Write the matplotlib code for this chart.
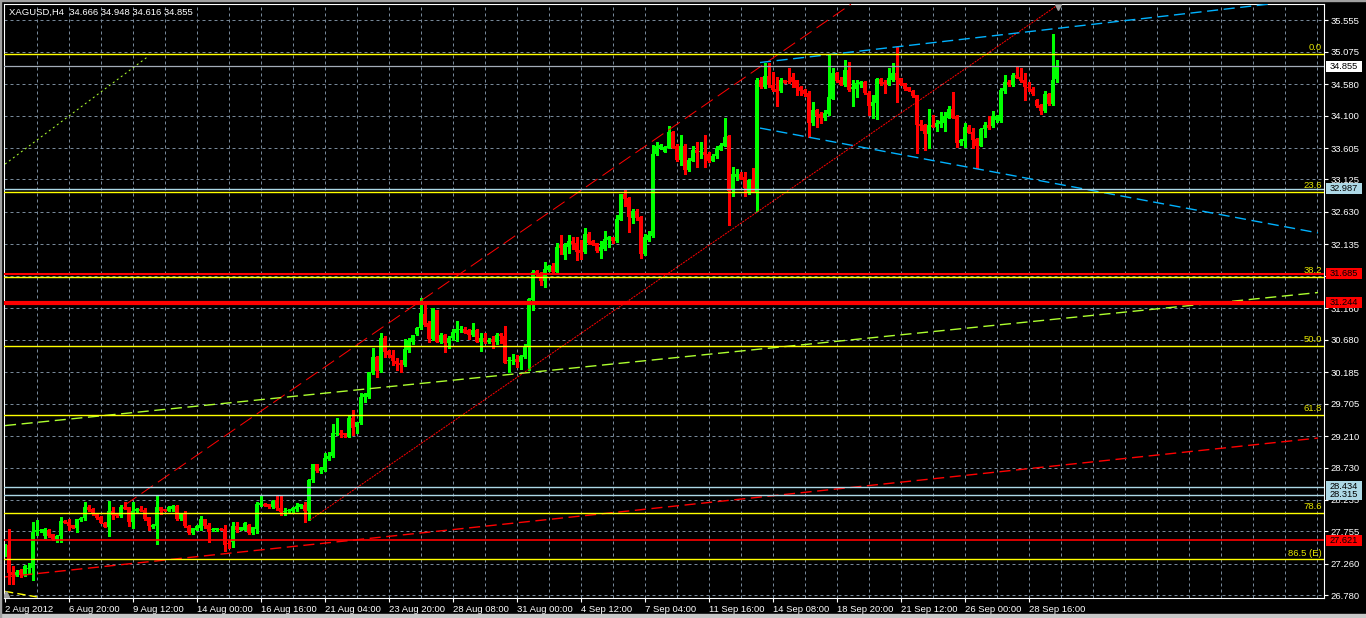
import matplotlib
matplotlib.use('Agg')
import matplotlib.pyplot as plt
import matplotlib.transforms as mtransforms
from matplotlib.patches import Rectangle
import numpy as np

# ------------------------------------------------------------
# Data (2 Aug 2012 .. 28 Sep 2012)
# ------------------------------------------------------------

opens = [
    27.40, 27.55, 27.13, 27.09, 27.16, 27.09, 27.18, 27.20, 27.74, 27.76,
    27.68, 27.78, 27.71, 27.64, 27.68, 27.92, 27.90, 27.85, 27.81, 27.93,
    27.96, 28.12, 28.10, 28.03, 27.98, 27.89, 27.83, 28.07, 28.02, 27.99,
    28.12, 28.12, 27.90, 28.06, 28.10, 28.08, 27.97, 27.82, 27.84, 28.12,
    28.09, 28.07, 28.10, 28.15, 27.94, 28.04, 27.84, 27.73, 27.78, 27.80,
    27.94, 27.85, 27.77, 27.77, 27.79, 27.79, 27.58, 27.60, 27.84, 27.78,
    27.78, 27.86, 27.73, 27.79, 28.16, 28.18, 28.17, 28.12, 28.23, 28.11,
    28.05, 28.06, 28.06, 28.09, 28.12, 28.16, 28.07, 28.54, 28.78, 28.67,
    28.69, 28.86, 28.90, 29.24, 29.26, 29.25, 29.20, 29.49, 29.35, 29.41,
    29.80, 29.81, 30.17, 30.41, 30.21, 30.70, 30.51, 30.45, 30.36, 30.33,
    30.29, 30.52, 30.65, 30.76, 30.86, 31.08, 30.94, 30.69, 31.13, 30.65,
    30.75, 30.63, 30.70, 30.78, 30.83, 30.84, 30.83, 30.75, 30.83, 30.65,
    30.70, 30.65, 30.69, 30.65, 30.76, 30.74, 30.35, 30.36, 30.38, 30.34,
    30.41, 30.57, 31.29, 31.73, 31.69, 31.57, 31.74, 31.80, 31.72, 32.12,
    31.98, 32.10, 32.19, 32.15, 32.05, 32.02, 32.30, 32.19, 32.15, 32.04,
    32.07, 32.20, 32.24, 32.18, 32.51, 32.90, 32.85, 32.54, 32.64, 32.56,
    31.99, 32.20, 32.26, 33.52, 33.61, 33.55, 33.61, 33.85, 33.64, 33.42,
    33.64, 33.27, 33.41, 33.57, 33.54, 33.55, 33.52, 33.41, 33.49, 33.58,
    33.64, 33.79, 32.96, 33.17, 33.21, 33.17, 32.93, 33.12, 32.93, 34.65,
    34.54, 34.70, 34.57, 34.50, 34.47, 34.64, 34.62, 34.69, 34.64, 34.53,
    34.49, 34.45, 33.99, 34.18, 34.13, 34.06, 34.13, 34.36, 34.75, 34.65,
    34.57, 34.80, 34.50, 34.50, 34.58, 34.62, 34.45, 34.25, 34.29, 34.66,
    34.62, 34.58, 34.64, 34.75, 34.67, 34.59, 34.53, 34.47, 34.41, 33.97,
    33.96, 33.82, 33.96, 33.92, 33.97, 33.99, 34.07, 34.20, 34.09, 33.68,
    33.72, 33.93, 33.85, 33.74, 33.64, 33.89, 33.96, 33.94, 34.04, 34.02,
    34.47, 34.62, 34.57, 34.72, 34.69, 34.64, 34.54, 34.51, 34.34, 34.26,
    34.17, 34.43, 34.28, 34.666,
]
highs = [
    27.56, 27.79, 27.22, 27.17, 27.18, 27.24, 27.27, 27.90, 27.93, 27.79,
    27.80, 27.79, 27.72, 27.70, 27.97, 27.93, 27.95, 27.86, 27.95, 27.97,
    28.20, 28.16, 28.11, 28.04, 27.99, 27.90, 28.22, 28.13, 28.03, 28.16,
    28.21, 28.13, 28.21, 28.11, 28.14, 28.11, 27.98, 27.87, 28.30, 28.12,
    28.10, 28.14, 28.16, 28.16, 28.04, 28.06, 27.85, 27.81, 27.85, 27.99,
    27.95, 27.88, 27.80, 27.81, 27.80, 27.85, 27.62, 27.90, 27.90, 27.83,
    27.90, 27.87, 27.83, 28.21, 28.29, 28.19, 28.18, 28.23, 28.30, 28.30,
    28.11, 28.09, 28.12, 28.19, 28.18, 28.21, 28.55, 28.79, 28.79, 28.74,
    28.95, 28.96, 29.39, 29.48, 29.30, 29.26, 29.51, 29.61, 29.43, 29.87,
    29.87, 30.19, 30.55, 30.43, 30.78, 30.73, 30.52, 30.52, 30.40, 30.37,
    30.69, 30.70, 30.75, 30.88, 31.31, 31.21, 30.96, 31.17, 31.14, 30.79,
    30.76, 30.73, 30.85, 30.97, 30.89, 30.87, 30.84, 30.94, 30.84, 30.78,
    30.78, 30.70, 30.73, 30.78, 30.78, 30.89, 30.41, 30.46, 30.45, 30.45,
    30.61, 31.31, 31.74, 31.75, 31.72, 31.86, 31.82, 31.85, 32.15, 32.28,
    32.16, 32.28, 32.25, 32.25, 32.20, 32.38, 32.33, 32.20, 32.16, 32.18,
    32.34, 32.26, 32.25, 32.59, 32.91, 32.97, 32.86, 32.67, 32.67, 32.57,
    32.30, 32.34, 33.65, 33.70, 33.67, 33.64, 33.94, 33.86, 33.67, 33.80,
    33.67, 33.45, 33.63, 33.69, 33.69, 33.80, 33.55, 33.52, 33.63, 33.68,
    34.07, 33.81, 33.31, 33.28, 33.24, 33.24, 33.14, 33.30, 34.68, 34.69,
    34.91, 34.90, 34.77, 34.69, 34.67, 34.65, 34.83, 34.75, 34.65, 34.55,
    34.50, 34.47, 34.31, 34.20, 34.16, 34.18, 35.04, 34.82, 34.77, 34.69,
    34.95, 34.92, 34.65, 34.64, 34.63, 34.63, 34.47, 34.41, 34.67, 34.67,
    34.64, 34.82, 34.90, 35.14, 34.68, 34.60, 34.54, 34.49, 34.42, 34.04,
    33.97, 34.20, 34.11, 34.03, 34.16, 34.16, 34.24, 34.46, 34.11, 33.75,
    33.99, 33.96, 33.91, 33.76, 33.91, 34.01, 34.09, 34.17, 34.11, 34.52,
    34.72, 34.64, 34.75, 34.85, 34.82, 34.75, 34.62, 34.54, 34.35, 34.27,
    34.48, 34.45, 35.35, 34.948,
]
lows = [
    27.38, 26.96, 26.96, 27.07, 27.06, 27.08, 27.12, 27.02, 27.70, 27.74,
    27.66, 27.67, 27.62, 27.60, 27.60, 27.88, 27.78, 27.80, 27.75, 27.92,
    27.93, 28.06, 28.01, 27.95, 27.88, 27.82, 27.68, 27.95, 27.98, 27.98,
    28.09, 27.84, 27.80, 28.05, 28.06, 27.93, 27.78, 27.81, 27.57, 28.02,
    28.06, 28.06, 28.07, 27.93, 27.93, 27.82, 27.72, 27.72, 27.77, 27.78,
    27.80, 27.60, 27.76, 27.76, 27.77, 27.46, 27.50, 27.52, 27.75, 27.77,
    27.77, 27.72, 27.72, 27.73, 28.14, 28.14, 28.11, 28.11, 28.08, 28.01,
    28.01, 28.05, 28.05, 28.07, 28.11, 27.90, 27.93, 28.51, 28.66, 28.64,
    28.68, 28.84, 28.89, 29.22, 29.20, 29.20, 29.20, 29.23, 29.26, 29.40,
    29.73, 29.79, 30.16, 30.11, 30.19, 30.42, 30.42, 30.29, 30.22, 30.19,
    30.28, 30.50, 30.61, 30.75, 30.85, 30.89, 30.65, 30.68, 30.64, 30.63,
    30.50, 30.56, 30.68, 30.66, 30.80, 30.78, 30.69, 30.74, 30.64, 30.51,
    30.63, 30.63, 30.55, 30.61, 30.63, 30.32, 30.19, 30.31, 30.26, 30.24,
    30.40, 30.22, 31.13, 31.64, 31.52, 31.49, 31.73, 31.71, 31.71, 31.99,
    31.91, 32.00, 32.07, 31.89, 31.91, 32.00, 32.14, 32.12, 32.02, 31.92,
    32.05, 32.10, 32.16, 32.17, 32.50, 32.72, 32.33, 32.46, 32.50, 31.93,
    31.97, 32.18, 32.25, 33.50, 33.59, 33.54, 33.60, 33.60, 33.40, 33.34,
    33.21, 33.26, 33.40, 33.32, 33.46, 33.32, 33.39, 33.40, 33.46, 33.57,
    33.63, 32.43, 32.87, 33.12, 33.13, 32.87, 32.90, 32.93, 32.65, 34.52,
    34.52, 34.54, 34.48, 34.25, 34.46, 34.59, 34.60, 34.54, 34.41, 34.41,
    34.40, 33.77, 33.96, 33.93, 33.99, 34.04, 34.11, 34.35, 34.62, 34.56,
    34.55, 34.48, 34.24, 34.39, 34.54, 34.43, 34.11, 34.06, 34.05, 34.57,
    34.45, 34.57, 34.63, 34.30, 34.57, 34.49, 34.47, 34.39, 33.53, 33.88,
    33.58, 33.60, 33.92, 33.87, 33.93, 33.86, 34.06, 34.07, 33.62, 33.65,
    33.62, 33.83, 33.60, 33.30, 33.63, 33.78, 33.89, 33.93, 34.01, 34.01,
    34.44, 34.55, 34.55, 34.67, 34.62, 34.34, 34.47, 34.41, 34.23, 34.13,
    34.16, 34.26, 34.26, 34.616,
]
closes = [
    27.55, 27.12, 27.09, 27.14, 27.09, 27.22, 27.20, 27.75, 27.77, 27.77,
    27.79, 27.69, 27.64, 27.69, 27.92, 27.89, 27.84, 27.81, 27.94, 27.96,
    28.12, 28.08, 28.02, 27.96, 27.89, 27.83, 28.07, 28.01, 27.99, 28.12,
    28.10, 27.90, 28.07, 28.10, 28.07, 27.95, 27.84, 27.86, 28.12, 28.07,
    28.07, 28.13, 28.15, 27.94, 28.03, 27.84, 27.73, 27.80, 27.84, 27.94,
    27.84, 27.75, 27.79, 27.80, 27.78, 27.55, 27.56, 27.84, 27.77, 27.82,
    27.88, 27.73, 27.82, 28.17, 28.19, 28.15, 28.12, 28.22, 28.11, 28.05,
    28.07, 28.08, 28.11, 28.14, 28.17, 28.07, 28.54, 28.78, 28.67, 28.72,
    28.87, 28.91, 29.25, 29.26, 29.22, 29.22, 29.48, 29.34, 29.42, 29.81,
    29.85, 30.18, 30.41, 30.21, 30.70, 30.50, 30.44, 30.35, 30.31, 30.29,
    30.54, 30.68, 30.75, 30.86, 31.09, 30.91, 30.69, 31.16, 30.65, 30.75,
    30.63, 30.71, 30.80, 30.84, 30.85, 30.79, 30.75, 30.83, 30.65, 30.70,
    30.65, 30.67, 30.65, 30.75, 30.73, 30.33, 30.37, 30.37, 30.34, 30.43,
    30.57, 31.30, 31.72, 31.67, 31.57, 31.76, 31.80, 31.72, 32.10, 32.08,
    32.12, 32.19, 32.14, 32.02, 32.01, 32.30, 32.15, 32.13, 32.04, 32.09,
    32.22, 32.24, 32.18, 32.52, 32.90, 32.83, 32.55, 32.64, 32.53, 31.99,
    32.24, 32.28, 33.52, 33.64, 33.65, 33.62, 33.85, 33.61, 33.42, 33.64,
    33.27, 33.42, 33.57, 33.53, 33.55, 33.50, 33.40, 33.49, 33.60, 33.65,
    33.78, 32.95, 33.21, 33.21, 33.14, 32.99, 33.12, 32.94, 34.65, 34.54,
    34.70, 34.56, 34.49, 34.46, 34.65, 34.60, 34.61, 34.62, 34.52, 34.47,
    34.43, 33.99, 34.19, 34.10, 34.06, 34.14, 34.39, 34.75, 34.63, 34.57,
    34.80, 34.49, 34.53, 34.59, 34.62, 34.44, 34.25, 34.30, 34.66, 34.58,
    34.58, 34.67, 34.75, 34.64, 34.58, 34.50, 34.48, 34.40, 33.96, 33.94,
    33.82, 33.96, 33.93, 33.98, 34.02, 34.09, 34.20, 34.07, 33.68, 33.73,
    33.93, 33.84, 33.73, 33.64, 33.90, 33.96, 33.91, 34.09, 34.10, 34.49,
    34.62, 34.57, 34.72, 34.68, 34.63, 34.53, 34.52, 34.43, 34.24, 34.17,
    34.43, 34.28, 34.65, 34.855,
]

date_labels = ['2 Aug 2012', '6 Aug 20:00', '9 Aug 12:00', '14 Aug 00:00', '16 Aug 16:00',
               '21 Aug 04:00', '23 Aug 20:00', '28 Aug 08:00', '31 Aug 00:00', '4 Sep 12:00',
               '7 Sep 04:00', '11 Sep 16:00', '14 Sep 08:00', '18 Sep 20:00', '21 Sep 12:00',
               '26 Sep 00:00', '28 Sep 16:00']
price_ticks = [35.555, 35.075, 34.580, 34.100, 33.605, 33.125, 32.630, 32.135, 31.655,
               31.160, 30.680, 30.185, 29.705, 29.210, 28.730, 28.235, 27.755, 27.260, 26.780]

# fibonacci retracement (0 at the top, 100 below the chart)
fib_top, fib_bottom = 35.040, 26.128
fib_levels = [0.0, 23.6, 38.2, 50.0, 61.8, 78.6, 86.5]
fib_names = ['0.0', '23.6', '38.2', '50.0', '61.8', '78.6', '86.5 (E)']

# horizontal lines with their price boxes on the axis
bid_price = 34.855
blue_levels = [32.987, 28.434, 28.315]
red_levels = [31.685, 31.244, 27.621]
red_widths = [1.5, 3.0, 1.2]

# trend lines as (bar, price) end points
red_chan_upper = ([30, 211.5], [28.16, 35.80])
red_chan_lower = ([76.25, 263.25], [27.93, 35.79])
green_short = ([0, 35.5], [33.36, 34.99])
green_long = ([0, 328.25], [29.37, 31.40])
red_long = ([0, 328.25], [27.06, 29.18])
blue_upper = ([188.75, 315.75], [34.91, 35.80])
blue_lower = ([188.75, 328.25], [33.91, 32.31])
fib_trend = ([0, 8], [26.84, 26.755])

# ------------------------------------------------------------
# Figure
# ------------------------------------------------------------

W, H = 1366, 618
fig = plt.figure(figsize=(W / 100, H / 100), dpi=100, facecolor='black')
ax = fig.add_axes([4 / W, 20 / H, 1320 / W, 594 / H])
ax.set_facecolor('black')
ax.set_xlim(-0.25, 329.75)
ax.set_ylim(26.739, 35.803)

font = 'Liberation Sans'
grid_col = '#778899'

# grid
for p in price_ticks:
    ax.axhline(p, color=grid_col, lw=0.72, ls=(0, (3, 3)), zorder=0.5)
for g in range(8, 330, 8):
    ax.axvline(g, color=grid_col, lw=0.72, ls=(0, (3, 3)), zorder=0.5)

# candles
n = len(closes)
x = np.arange(n)
o = np.array(opens)
c = np.array(closes)
up = c >= o
cols = np.where(up, '#00FF00', '#FF0000')
ax.vlines(x, lows, highs, colors=cols, lw=0.8, zorder=2, antialiased=False)
body_lo = np.minimum(o, c)
body_h = np.maximum(np.abs(c - o), 0.014)
ax.bar(x, body_h, bottom=body_lo, width=0.82, color=cols, linewidth=0, zorder=2.1,
       antialiased=False)

# trend lines
ax.plot(*red_chan_upper, color='#FF0000', lw=0.72, ls=(0, (14, 6)), zorder=3)
ax.plot(*red_chan_lower, color='#FF0000', lw=0.72, ls=(0, (2, 1)), zorder=3)
ax.plot(*green_short, color='#ADFF2F', lw=0.72, ls=(0, (2, 3)), zorder=3)
ax.plot(*green_long, color='#ADFF2F', lw=1.0, ls=(0, (8, 4)), zorder=3)
ax.plot(*red_long, color='#FF0000', lw=1.0, ls=(0, (8, 4)), zorder=3)
ax.plot(*blue_upper, color='#00B2FF', lw=1.0, ls=(0, (8, 4)), zorder=3)
ax.plot(*blue_lower, color='#00B2FF', lw=1.0, ls=(0, (8, 4)), zorder=3)
ax.plot(*fib_trend, color='#FFFF00', lw=1.0, ls=(0, (6, 3)), zorder=3)
ax.plot([red_chan_lower[0][1]], [35.76], marker='v', ms=4, color='#A0A0A0', zorder=3)
ax.plot([0.2], [26.80], marker='^', ms=4, color='#A0A0A0', zorder=3)

# horizontal levels
blend = mtransforms.blended_transform_factory(ax.transAxes, ax.transData)
for f, name in zip(fib_levels, fib_names):
    p = fib_top - f / 100 * (fib_top - fib_bottom)
    ax.axhline(p, color='#FFFF00', lw=1.0, zorder=3.5)
    ax.text(0.9985, p + 0.025, name, transform=blend, ha='right', va='bottom',
            color='#E6E600', fontsize=6.8, family=font, zorder=4)

ax.axhline(bid_price, color='#A3ADB8', lw=0.9, zorder=3.5)
for p in blue_levels:
    ax.axhline(p, color='#ADD8E6', lw=1.0, zorder=3.5)
for p, w in zip(red_levels, red_widths):
    ax.axhline(p, color='#FF0000', lw=w, zorder=3.6)

# price boxes on the right axis
box_h = 11 * (35.803 - 26.739) / 594


def price_box(p, face):
    ax.add_patch(Rectangle((1.0015, p - box_h / 2), 36 / 1320, box_h, transform=blend,
                           facecolor=face, edgecolor='none', clip_on=False, zorder=10))
    ax.text(1.0045, p, f'{p:.3f}', transform=blend, ha='left', va='center',
            color='black', fontsize=6.7, family=font, zorder=11, clip_on=False)


price_box(bid_price, 'white')
for p in blue_levels:
    price_box(p, '#ADD8E6')
for p in red_levels:
    price_box(p, '#FF0000')

# axes styling
for s in ax.spines.values():
    s.set_color('white')
    s.set_linewidth(0.8)
ax.yaxis.tick_right()
ax.set_yticks(price_ticks)
# the 31.655 label sits fully under the 31.685 box on the chart
ax.set_yticklabels(['' if p == 31.655 else f'{p:.3f}' for p in price_ticks])
ax.set_xticks(list(range(0, 16 * len(date_labels), 16)))
ax.set_xticklabels(date_labels)
ax.tick_params(axis='both', colors='white', direction='out', length=3, width=0.8,
               labelsize=6.8, pad=2)
for lbl in ax.get_xticklabels() + ax.get_yticklabels():
    lbl.set_family(font)
for lbl in ax.get_xticklabels():
    lbl.set_ha('left')

fig.text(9 / W, 1 - 12 / H, 'XAGUSD,H4  34.666 34.948 34.616 34.855', color='white',
         fontsize=6.8, family=font, va='center', ha='left')

# light window frame
fig.add_artist(Rectangle((0, 0), 1, 4 / H, transform=fig.transFigure, color='#C8C8C8'))
fig.add_artist(Rectangle((0, 0), 1 / W, 1, transform=fig.transFigure, color='#A0A0A0'))
fig.add_artist(Rectangle((0, 1 - 1 / H), 1, 1 / H, transform=fig.transFigure, color='#A0A0A0'))

fig.savefig('out.png', dpi=100, facecolor='black')
